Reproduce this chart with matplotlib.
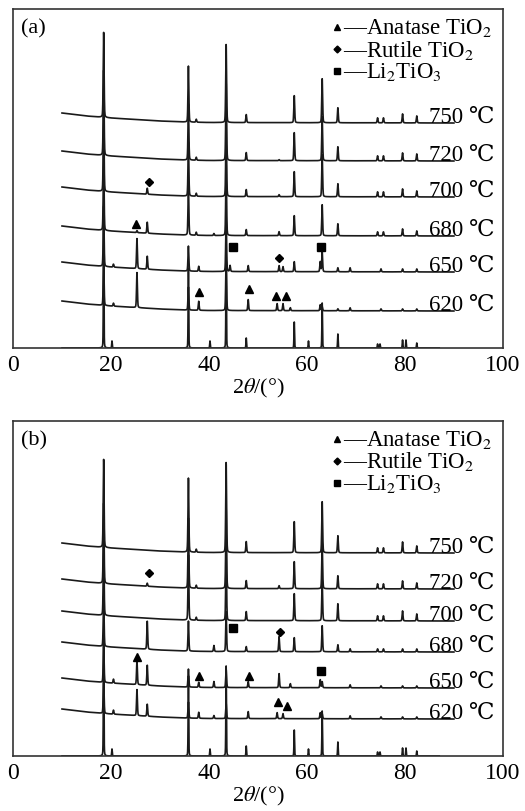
import numpy as np
import matplotlib
matplotlib.use("Agg")
from matplotlib import pyplot as plt

plt.rcParams['font.family'] = ['Liberation Serif', 'DejaVu Serif', 'Noto Sans CJK SC']
plt.rcParams['mathtext.fontset'] = 'stix'

# peak positions (2theta) shared by the sample patterns
peak_pos = [18.5, 20.5, 25.3, 27.4, 35.8, 37.4, 37.9, 41.0, 43.5, 44.3, 47.6, 48.0, 53.9, 54.3,
            55.1, 56.6, 57.4, 62.7, 63.1, 66.3, 68.8, 74.4, 75.1, 75.6, 79.5, 80.2, 82.4]

temps = ["750", "720", "700", "680", "650", "620"]

# panel (a): peak heights and baseline offsets (in px of the axes)
a750 = [85, 0, 0, 0, 56, 3, 0, 0, 78, 0, 8, 0, 0, 0, 0, 0, 27, 0, 44, 15, 0, 5, 0, 5, 9, 0, 7]
a720 = [85, 0, 0, 0, 56, 3, 0, 0, 78, 0, 8, 0, 0, 1, 0, 0, 28, 0, 44, 14, 0, 5, 0, 5, 8, 0, 7]
a700 = [80, 0, 0, 6, 54, 3, 0, 0, 75, 0, 7, 0, 0, 2, 0, 0, 25, 0, 42, 13, 0, 5, 0, 5, 8, 0, 6]
a680 = [75, 0, 2, 11, 50, 3, 0, 2, 72, 0, 6, 0, 0, 4, 0, 0, 20, 0, 31, 12, 0, 4, 0, 4, 7, 0, 5]
a650 = [60, 3, 30, 13, 25, 0, 5, 0, 55, 6, 0, 6, 0, 6, 5, 0, 10, 10, 20, 4, 4, 0, 3, 0, 3, 0, 3]
a620 = [45, 3, 35, 0, 23, 0, 9, 0, 55, 0, 0, 11, 7, 0, 7, 3, 0, 6, 4, 2, 3, 0, 2, 0, 2, 0, 2]
a_offsets = [225, 187, 151, 112, 76, 37]

# panel (b)
b750 = [88, 0, 0, 0, 74, 3, 0, 0, 90, 0, 11, 0, 0, 0, 0, 0, 31, 0, 51, 17, 0, 5, 0, 5, 11, 0, 7]
b720 = [80, 0, 0, 3, 70, 3, 0, 0, 80, 0, 8, 0, 0, 3, 0, 0, 27, 0, 45, 13, 0, 5, 0, 5, 8, 0, 6]
b700 = [75, 0, 0, 0, 65, 3, 0, 0, 70, 0, 9, 0, 0, 0, 0, 0, 27, 0, 40, 17, 0, 5, 0, 5, 10, 0, 7]
b680 = [50, 0, 0, 28, 30, 0, 0, 6, 40, 0, 5, 0, 0, 15, 0, 0, 14, 0, 26, 7, 3, 3, 0, 3, 3, 0, 3]
b650 = [40, 4, 24, 20, 18, 0, 5, 6, 18, 0, 0, 6, 0, 14, 0, 4, 0, 8, 6, 0, 3, 0, 2, 0, 2, 0, 2]
b620 = [35, 4, 26, 12, 16, 0, 6, 3, 15, 0, 0, 7, 6, 0, 5, 0, 0, 6, 5, 0, 3, 0, 2, 0, 2, 0, 2]
b_offsets = [203, 167, 135, 104, 68, 37]

# background rise at low angle
bg_x = [10, 15, 20, 25, 30, 35, 40, 90]
bg_y = [10, 7, 5, 3.5, 2, 1, 0.5, 0]

# standard stick pattern drawn on the bottom axis
ref_pos = [18.5, 20.2, 35.8, 40.2, 43.5, 47.6, 57.4, 60.3, 63.1, 66.3, 74.4, 74.9, 79.5, 80.2, 82.4]
ref_h = [120, 7, 80, 7, 90, 10, 26, 7, 45, 14, 4, 4, 8, 8, 5]

# phase markers (x, y in axes px)
a_tri = [(25.1, 124), (38.0, 56), (48.1, 59), (53.7, 52), (55.7, 52)]
a_dia = [(27.7, 166), (54.3, 90)]
a_sq = [(44.8, 101), (62.9, 101)]
b_tri = [(25.3, 99), (38.0, 80), (48.2, 80), (54.0, 54), (55.9, 50)]
b_dia = [(27.7, 183), (54.5, 124)]
b_sq = [(44.8, 128), (62.8, 85)]


def pattern(x, pos, heights, w):
    y = np.zeros_like(x)
    for p, h in zip(pos, heights):
        if h == 0:
            continue
        g = np.exp(-0.5 * ((x - p) / w) ** 2)
        l = 1.0 / (1.0 + ((x - p) / w) ** 2)
        y += h * (0.7 * g + 0.3 * l)
    return y


def draw_panel(ax, tag, curves, offsets, tri, dia, sq, height):
    x = np.arange(10, 90, 0.02)
    bg = np.interp(x, bg_x, bg_y)
    for h, off, t in zip(curves, offsets, temps):
        y = off + bg + pattern(x, peak_pos, h, 0.09)
        ax.plot(x, y, color='#1a1a1a', lw=1.2)
        ax.text(98.3, off + 1, t + " ℃", ha='right', va='baseline', fontsize=16.5)

    xr = np.arange(10, 87, 0.02)
    ax.plot(xr, pattern(xr, ref_pos, ref_h, 0.06), color='#1a1a1a', lw=1.2)

    ax.plot(*zip(*tri), ls='none', marker='^', ms=6, color='black')
    ax.plot(*zip(*dia), ls='none', marker='D', ms=4.5, color='black')
    ax.plot(*zip(*sq), ls='none', marker='s', ms=5.5, color='black')

    # legend drawn by hand
    rows = [('^', 4.5, "—Anatase TiO$_2$"), ('D', 3.5, "—Rutile TiO$_2$"), ('s', 4.5, "—Li$_2$TiO$_3$")]
    for i, (m, ms, lab) in enumerate(rows):
        yy = height - 18 - 22 * i
        ax.plot([66.2], [yy], marker=m, ms=ms, color='black', ls='none')
        ax.text(67.3, yy, lab, ha='left', va='center', fontsize=16.5)

    ax.text(1.6, height - 9, tag, ha='left', va='top', fontsize=16)

    ax.set_xlim(0, 100)
    ax.set_ylim(0, height)
    ax.set_xticks([0, 20, 40, 60, 80, 100])
    ax.set_yticks([])
    ax.tick_params(axis='x', length=0, pad=4, labelsize=17)
    for s in ax.spines.values():
        s.set_linewidth(1.2)
        s.set_color('#333333')
    ax.set_xlabel(r"2$\theta$/(°)", fontsize=16, labelpad=1)


fig = plt.figure(figsize=(5.25, 8.12), dpi=100)
W, H = 525, 812

ax_a = fig.add_axes([13 / W, 1 - 349 / H, 490 / W, 339 / H])
draw_panel(ax_a, "(a)", [a750, a720, a700, a680, a650, a620], a_offsets, a_tri, a_dia, a_sq, 339)

ax_b = fig.add_axes([13 / W, 1 - 757 / H, 490 / W, 335 / H])
draw_panel(ax_b, "(b)", [b750, b720, b700, b680, b650, b620], b_offsets, b_tri, b_dia, b_sq, 335)

plt.savefig("out.png", dpi=100)
plt.close()
